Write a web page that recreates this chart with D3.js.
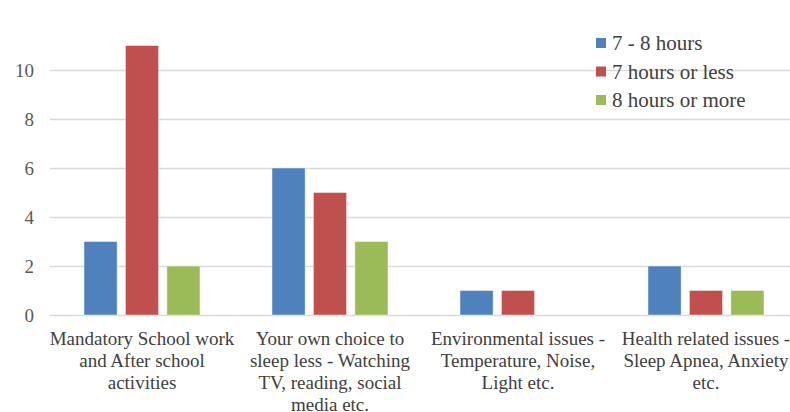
<!DOCTYPE html>
<html>
<head>
<meta charset="utf-8">
<script src="https://cdn.jsdelivr.net/npm/d3@7"></script>
<style>
  html, body { margin: 0; padding: 0; background: #fff; }
  svg { display: block; }
</style>
</head>
<body>
<svg id="chart" width="790" height="412"></svg>
<script>
// Reasons for reduced sleep, counted per sleep-duration group
const categories = [
  ["Mandatory School work", "and After school", "activities"],
  ["Your own choice to", "sleep less - Watching", "TV, reading, social", "media etc."],
  ["Environmental issues -", "Temperature, Noise,", "Light etc."],
  ["Health related issues -", "Sleep Apnea, Anxiety", "etc."]
];
const seriesNames = ["7 - 8 hours", "7 hours or less", "8 hours or more"];
const hours7to8 = [3, 6, 1, 2];
const hours7orLess = [11, 5, 1, 1];
const hours8orMore = [2, 3, 0, 1];
const yTicks = [0, 2, 4, 6, 8, 10];
const colors = ["#4F81BD", "#C0504D", "#9BBB59"];

const seriesValues = [hours7to8, hours7orLess, hours8orMore];
const svg = d3.select("#chart");
const font = "'Liberation Serif', 'DejaVu Serif', serif";

const x0 = d3.scaleBand().domain(d3.range(categories.length)).range([48, 800]).paddingInner(0).paddingOuter(0);
const x1 = d3.scaleBand().domain(d3.range(seriesNames.length)).range([36, 152]).paddingInner(0.2).paddingOuter(0);
const y = d3.scaleLinear().domain([0, 10]).range([315, 70]);

// gridlines
svg.append("g")
  .selectAll("line")
  .data(yTicks)
  .join("line")
  .attr("x1", 50).attr("x2", 790)
  .attr("y1", d => Math.round(y(d)) + 0.5)
  .attr("y2", d => Math.round(y(d)) + 0.5)
  .attr("stroke", "#d9d9d9")
  .attr("stroke-width", 1.5);

// y axis labels
const yAxis = svg.append("g")
  .attr("transform", "translate(34,0)")
  .call(d3.axisLeft(y).tickValues(yTicks).tickSize(0).tickPadding(0));
yAxis.select(".domain").remove();
yAxis.selectAll("text")
  .attr("font-family", font)
  .attr("font-size", 19)
  .attr("fill", "#595959");

// bars
const groups = svg.append("g")
  .selectAll("g")
  .data(categories.map((c, i) => i))
  .join("g")
  .attr("transform", i => `translate(${x0(i)},0)`);

groups.selectAll("rect")
  .data(i => seriesValues.map((vals, s) => ({ s, v: vals[i] })).filter(d => d.v > 0))
  .join("rect")
  .attr("x", d => x1(d.s))
  .attr("width", x1.bandwidth())
  .attr("y", d => y(d.v))
  .attr("height", d => y(0) - y(d.v))
  .attr("fill", d => colors[d.s])
  .attr("stroke", "rgba(255,255,255,0.45)")
  .attr("stroke-width", 1);

// category labels
const labels = svg.append("g")
  .selectAll("text")
  .data(categories)
  .join("text")
  .attr("x", (c, i) => x0(i) + x0.bandwidth() / 2)
  .attr("y", 345)
  .attr("text-anchor", "middle")
  .attr("font-family", font)
  .attr("font-size", 19)
  .attr("fill", "#404040");
labels.selectAll("tspan")
  .data(d => d)
  .join("tspan")
  .attr("x", function () { return this.parentNode.getAttribute("x"); })
  .attr("dy", (d, j) => j === 0 ? 0 : 22)
  .text(d => d);

// legend
const legend = svg.append("g")
  .selectAll("g")
  .data(seriesNames)
  .join("g")
  .attr("transform", (d, i) => `translate(596,${43 + i * 28.5})`);
legend.append("rect")
  .attr("x", 0).attr("y", -5)
  .attr("width", 10).attr("height", 10)
  .attr("fill", (d, i) => colors[i]);
legend.append("text")
  .attr("x", 16).attr("y", 7)
  .attr("font-family", font)
  .attr("font-size", 21)
  .attr("fill", "#404040")
  .text(d => d);
</script>
</body>
</html>
